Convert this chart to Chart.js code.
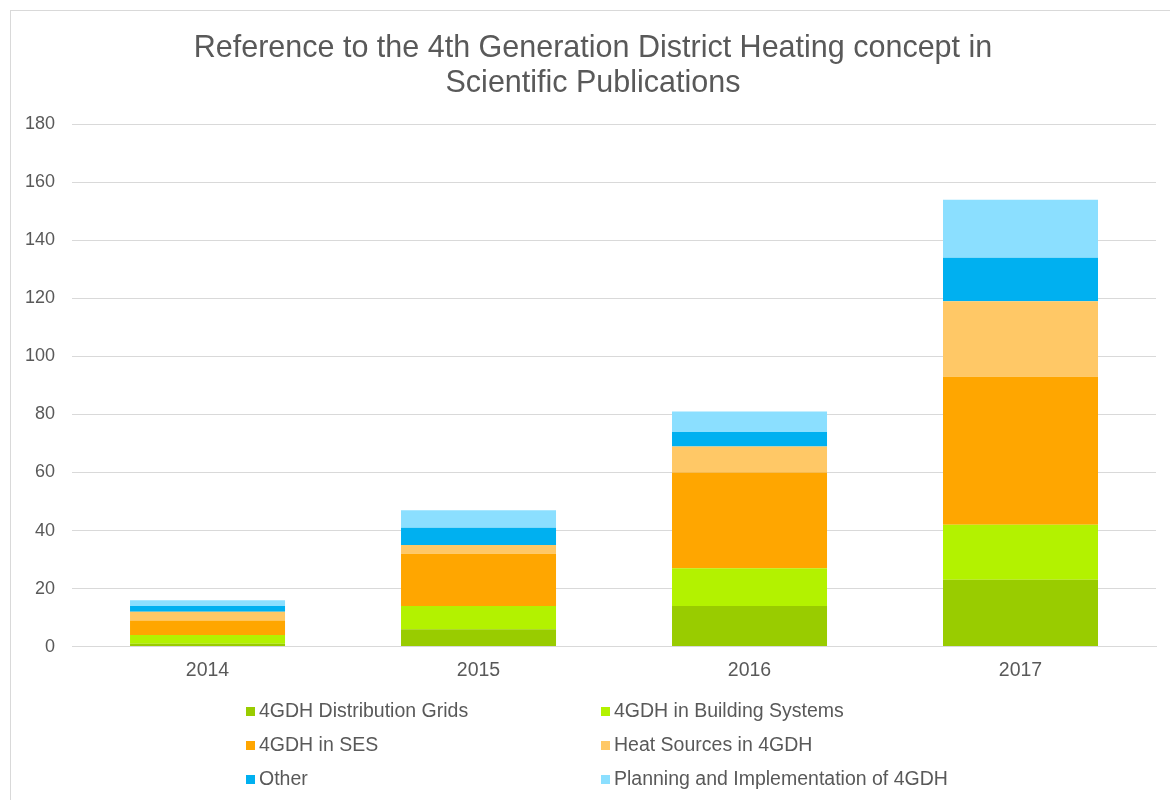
<!DOCTYPE html>
<html>
<head>
<meta charset="utf-8">
<script src="https://cdn.jsdelivr.net/npm/chart.js@4.4.0/dist/chart.umd.min.js"></script>
<style>
  html, body { margin: 0; padding: 0; background: #fff; }
  #wrap { position: relative; width: 1170px; height: 800px; }
</style>
</head>
<body>
<div id="wrap"><canvas id="pubChart"></canvas></div>
<script>
// categories and series
const years = ['2014', '2015', '2016', '2017'];
const distributionGrids = [1, 6, 14, 23];
const buildingSystems = [3, 8, 13, 19];
const inSES = [5, 18, 33, 51];
const heatSources = [3, 3, 9, 26];
const other = [2, 6, 5, 15];
const planning = [2, 6, 7, 20];

const seriesNames = [
    '4GDH Distribution Grids',
    '4GDH in Building Systems',
    '4GDH in SES',
    'Heat Sources in 4GDH',
    'Other',
    'Planning and Implementation of 4GDH'
];
const seriesColors = ['#99cc00', '#b3f200', '#ffa600', '#ffc866', '#00b0f0', '#8bdfff'];
const seriesValues = [distributionGrids, buildingSystems, inSES, heatSources, other, planning];

const textGrey = '#595959';
const fontFamily = '"Liberation Sans", Arial, sans-serif';

// frame round the whole chart, and nudge the title to sit over the page centre
const chartFrame = {
    id: 'chartFrame',
    afterLayout(chart) {
        if (chart.titleBlock) {
            chart.titleBlock.left += 11;
            chart.titleBlock.right += 11;
        }
    },
    beforeDraw(chart) {
        let ctx = chart.ctx;
        ctx.save();
        ctx.strokeStyle = '#d9d9d9';
        ctx.lineWidth = 1;
        ctx.strokeRect(10.5, 10.5, chart.width, chart.height);
        ctx.restore();
    }
};

// two column legend under the plot
const gridLegend = {
    id: 'gridLegend',
    afterDraw(chart) {
        let ctx = chart.ctx;
        let cols = [246, 601];
        let rows = [712, 746, 780];
        ctx.save();
        ctx.font = '19.5px ' + fontFamily;
        ctx.textBaseline = 'middle';
        ctx.textAlign = 'left';
        chart.data.datasets.forEach((ds, i) => {
            let x = cols[i % 2];
            let y = rows[Math.floor(i / 2)];
            ctx.fillStyle = ds.backgroundColor;
            ctx.fillRect(x, y - 5, 9, 9);
            ctx.fillStyle = textGrey;
            ctx.fillText(ds.label, x + 13, y);
        });
        ctx.restore();
    }
};

let ctxPub = document.getElementById('pubChart').getContext('2d');

var pubChart = new Chart(ctxPub, {
    type: 'bar',
    data: {
        labels: years,
        datasets: seriesNames.map((name, i) => ({
            label: name,
            data: seriesValues[i],
            backgroundColor: seriesColors[i],
            borderWidth: 0,
            categoryPercentage: 1,
            barPercentage: 0.572
        }))
    },
    options: {
        responsive: true,
        maintainAspectRatio: false,
        animation: false,
        layout: {
            padding: { top: 12, left: 8, right: 14, bottom: 106 }
        },
        plugins: {
            legend: { display: false },
            tooltip: { enabled: false },
            title: {
                display: true,
                text: ['Reference to the 4th Generation District Heating concept in', 'Scientific Publications'],
                color: textGrey,
                font: { family: fontFamily, size: 30.5, weight: 'normal', lineHeight: 1.12 },
                padding: { top: 20, bottom: 24 }
            }
        },
        scales: {
            x: {
                stacked: true,
                grid: { display: false, drawTicks: false },
                border: { display: true, color: '#d9d9d9' },
                ticks: { color: textGrey, font: { family: fontFamily, size: 19.5 }, padding: 12 }
            },
            y: {
                stacked: true,
                min: 0,
                max: 180,
                grid: { color: '#d9d9d9', drawTicks: false },
                border: { display: false },
                ticks: { stepSize: 20, color: textGrey, font: { family: fontFamily, size: 18 }, padding: 17 }
            }
        }
    },
    plugins: [chartFrame, gridLegend]
});
</script>
</body>
</html>
